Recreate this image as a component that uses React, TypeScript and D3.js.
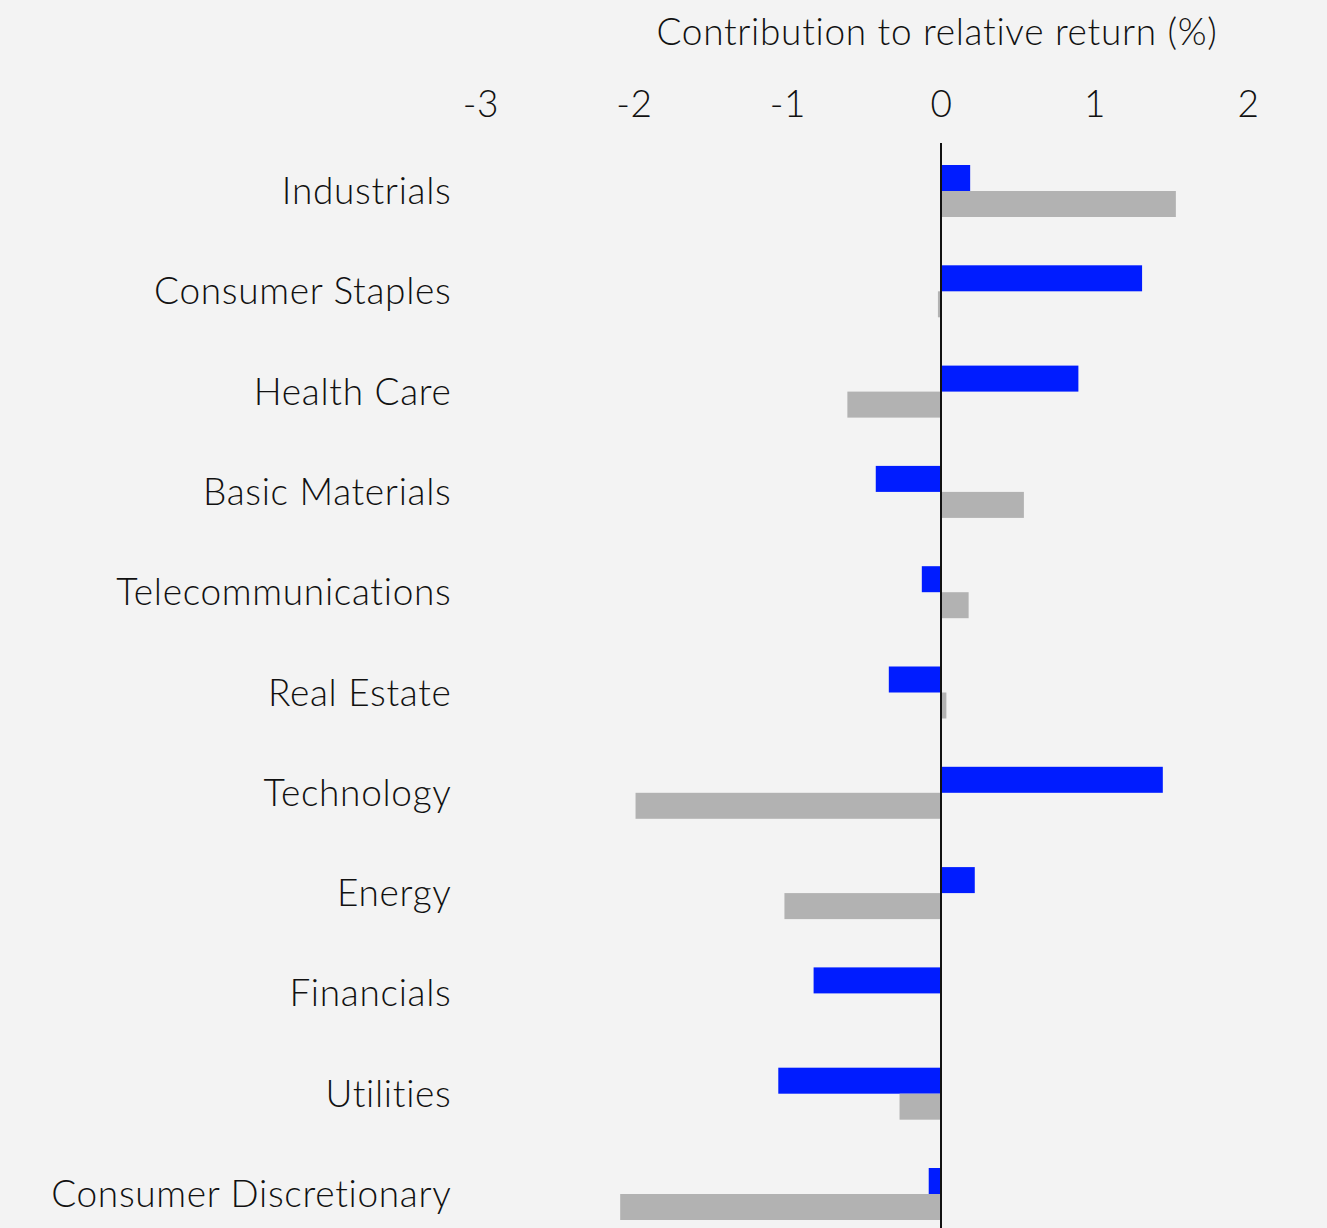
import React, { useEffect, useRef } from 'react';
import * as d3 from 'd3';

const sectors = [
  'Industrials',
  'Consumer Staples',
  'Health Care',
  'Basic Materials',
  'Telecommunications',
  'Real Estate',
  'Technology',
  'Energy',
  'Financials',
  'Utilities',
  'Consumer Discretionary',
];
// blue bars (upper bar of each pair)
const primaryValues = [0.19, 1.31, 0.895, -0.425, -0.125, -0.34, 1.445, 0.22, -0.83, -1.06, -0.08];
// grey bars (lower bar of each pair)
const secondaryValues = [1.53, -0.02, -0.61, 0.54, 0.18, 0.035, -1.99, -1.02, 0, -0.27, -2.09];
const xTicks = [-3, -2, -1, 0, 1, 2];
const axisTitle = 'Contribution to relative return (%)';

export default function App() {
  const svgRef = useRef<SVGSVGElement>(null);
  const W = 1327, H = 1228;
  const font = 'Lato, "Open Sans", sans-serif';

  useEffect(() => {
    const svg = d3.select(svgRef.current);
    svg.selectAll('*').remove();

    svg.append('rect').attr('width', W).attr('height', H).attr('fill', '#f3f3f3');

    const textStyle = (sel: any) => sel
      .attr('fill', '#111').attr('font-size', 37).attr('font-family', font)
      .attr('font-weight', 300).attr('letter-spacing', 0.7)
      .style('font-variant-ligatures', 'none');

    // Scales
    const x = d3.scaleLinear().domain([-3, 2]).range([480.5, 1248]);
    const y = d3.scalePoint<string>().domain(sectors).range([191, 1194]);
    const barH = 26;

    // Tick labels along the top
    const ax = svg.append('g').attr('transform', 'translate(0,117)')
      .call(d3.axisTop(x).tickValues(xTicks).tickFormat(d => String(d)).tickSize(0).tickPadding(0));
    ax.select('.domain').remove();
    ax.selectAll('text').call(textStyle);

    svg.append('text').attr('x', 937).attr('y', 45).attr('text-anchor', 'middle')
      .call(textStyle).text(axisTitle);

    // Bars
    const rows = sectors.map((s, i) => ({ s, a: primaryValues[i], b: secondaryValues[i] }));
    svg.append('g').selectAll('rect').data(rows).join('rect')
      .attr('x', d => x(Math.min(0, d.a))).attr('width', d => Math.abs(x(d.a) - x(0)))
      .attr('y', d => (y(d.s) as number) - barH).attr('height', barH)
      .attr('fill', '#001cff');
    svg.append('g').selectAll('rect').data(rows).join('rect')
      .attr('x', d => x(Math.min(0, d.b))).attr('width', d => Math.abs(x(d.b) - x(0)))
      .attr('y', d => y(d.s) as number).attr('height', barH)
      .attr('fill', '#b2b2b2');

    // Zero line
    svg.append('line').attr('x1', x(0)).attr('x2', x(0)).attr('y1', 143).attr('y2', H)
      .attr('stroke', '#111').attr('stroke-width', 2);

    // Category labels
    svg.append('g').selectAll('text').data(sectors).join('text')
      .attr('x', 451.5).attr('y', d => (y(d) as number) + 13)
      .attr('text-anchor', 'end').call(textStyle)
      .text(d => d);
  }, []);

  return (
    <svg ref={svgRef} width={W} height={H} viewBox={`0 0 ${W} ${H}`}
      style={{ position: 'absolute', left: 0, top: 0, display: 'block' }} />
  );
}
